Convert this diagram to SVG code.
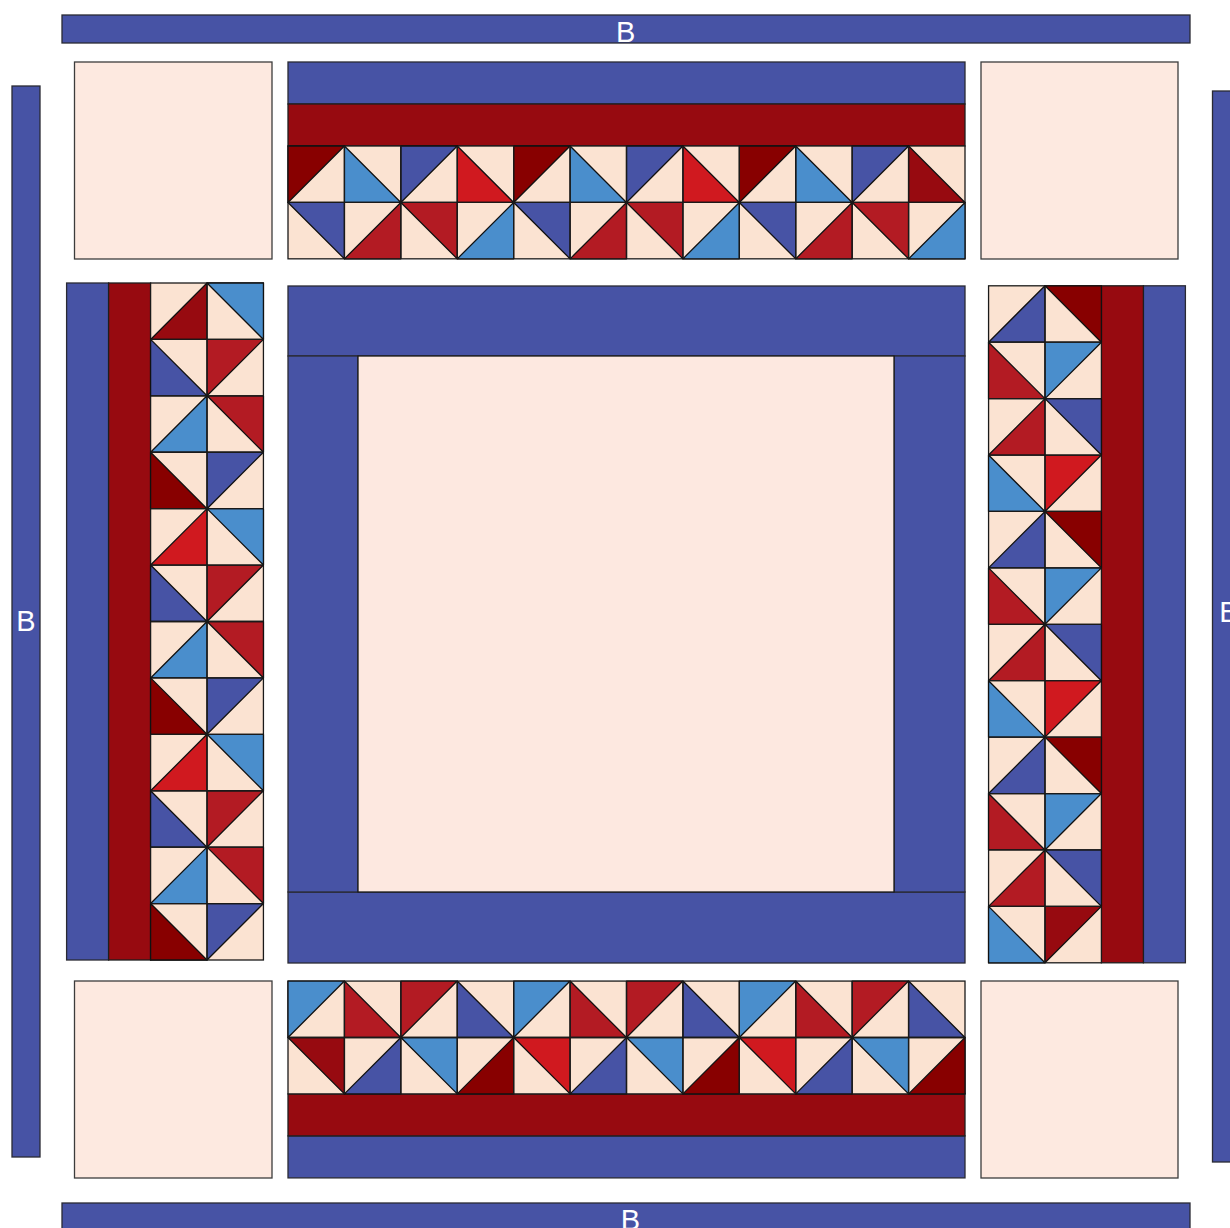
<svg xmlns="http://www.w3.org/2000/svg" xmlns:xlink="http://www.w3.org/1999/xlink" width="1230" height="1228" viewBox="0 0 1230 1228">
<style>
.blue{fill:#4753A5;stroke:#2a2a33;stroke-width:1.3}
.band{fill:#970A10;stroke:#1e1e1e;stroke-width:1.3}
.cream{fill:#FDE9E0;stroke:#3c3c3c;stroke-width:1.3}
.hst{fill:#FBE3D2;stroke:#1a1a1a;stroke-width:1.3}
.tri{stroke:#111;stroke-width:1.3;stroke-linejoin:round}
.grid{stroke:#1a1a1a;stroke-width:1.3;fill:none}
.lbl{font-family:"Liberation Sans","Open Sans",sans-serif;font-size:29px;fill:#ffffff;text-anchor:middle}
</style>
<defs>
<polygon id="tA" points="0,0 56.42,0 0,56.42"/>
<polygon id="tB" points="0,0 0,56.42 56.42,56.42"/>
<polygon id="tC" points="0,0 56.42,0 56.42,56.42"/>
<polygon id="tD" points="56.42,0 56.42,56.42 0,56.42"/>
<g id="strip">
<rect class="blue" x="0" y="0" width="677" height="42"/>
<rect class="band" x="0" y="42" width="677" height="42"/>
<rect class="hst" x="0" y="84" width="677" height="112.83"/>
<g class="tri">
<use xlink:href="#tA" x="0" y="84" fill="#880000"/>
<use xlink:href="#tB" x="56.42" y="84" fill="#4A8ECC"/>
<use xlink:href="#tA" x="112.83" y="84" fill="#4753A5"/>
<use xlink:href="#tB" x="169.25" y="84" fill="#D0191F"/>
<use xlink:href="#tA" x="225.67" y="84" fill="#880000"/>
<use xlink:href="#tB" x="282.08" y="84" fill="#4A8ECC"/>
<use xlink:href="#tA" x="338.5" y="84" fill="#4753A5"/>
<use xlink:href="#tB" x="394.92" y="84" fill="#D0191F"/>
<use xlink:href="#tA" x="451.33" y="84" fill="#880000"/>
<use xlink:href="#tB" x="507.75" y="84" fill="#4A8ECC"/>
<use xlink:href="#tA" x="564.17" y="84" fill="#4753A5"/>
<use xlink:href="#tB" x="620.58" y="84" fill="#970A10"/>
<use xlink:href="#tC" x="0" y="140.42" fill="#4753A5"/>
<use xlink:href="#tD" x="56.42" y="140.42" fill="#B31B23"/>
<use xlink:href="#tC" x="112.83" y="140.42" fill="#B31B23"/>
<use xlink:href="#tD" x="169.25" y="140.42" fill="#4A8ECC"/>
<use xlink:href="#tC" x="225.67" y="140.42" fill="#4753A5"/>
<use xlink:href="#tD" x="282.08" y="140.42" fill="#B31B23"/>
<use xlink:href="#tC" x="338.5" y="140.42" fill="#B31B23"/>
<use xlink:href="#tD" x="394.92" y="140.42" fill="#4A8ECC"/>
<use xlink:href="#tC" x="451.33" y="140.42" fill="#4753A5"/>
<use xlink:href="#tD" x="507.75" y="140.42" fill="#B31B23"/>
<use xlink:href="#tC" x="564.17" y="140.42" fill="#B31B23"/>
<use xlink:href="#tD" x="620.58" y="140.42" fill="#4A8ECC"/>
</g>
<path class="grid" d="M0,140.42H677M56.42,84V196.83M112.83,84V196.83M169.25,84V196.83M225.67,84V196.83M282.08,84V196.83M338.5,84V196.83M394.92,84V196.83M451.33,84V196.83M507.75,84V196.83M564.17,84V196.83M620.58,84V196.83"/>
</g>
</defs>

<g id="border-top"><rect class="blue" x="62" y="15" width="1128" height="28"/><text class="lbl" x="625.7" y="41.7">B</text></g>
<g id="border-left"><rect class="blue" x="12" y="86" width="28" height="1071"/><text class="lbl" x="25.8" y="630.7">B</text></g>
<g id="border-right"><rect class="blue" x="1212.5" y="91" width="28" height="1071"/><text class="lbl" x="1229" y="622.3">B</text></g>
<g id="border-bottom"><rect class="blue" x="62" y="1203" width="1128" height="28"/><text class="lbl" x="630.5" y="1230">B</text></g>

<g id="corner-tl"><rect class="cream" x="74.5" y="62" width="197.5" height="197"/></g>
<g id="corner-tr"><rect class="cream" x="981" y="62" width="197" height="197"/></g>
<g id="corner-bl"><rect class="cream" x="74.5" y="981" width="197.5" height="197"/></g>
<g id="corner-br"><rect class="cream" x="981" y="981" width="197" height="197"/></g>

<g id="strip-top"><use xlink:href="#strip" transform="translate(288,62)"/></g>
<g id="strip-left"><use xlink:href="#strip" transform="translate(165,621.5) rotate(-90) translate(-338.5,-98.4)"/></g>
<g id="strip-right"><use xlink:href="#strip" transform="translate(1087,624.3) rotate(90) translate(-338.5,-98.4)"/></g>
<g id="strip-bottom"><use xlink:href="#strip" transform="translate(626.5,1079.5) rotate(180) translate(-338.5,-98.4)"/></g>

<g id="center-block">
<rect class="blue" x="288" y="286" width="677" height="70"/>
<rect class="blue" x="288" y="892" width="677" height="71"/>
<rect class="blue" x="288" y="356" width="70" height="536"/>
<rect class="blue" x="894" y="356" width="71" height="536"/>
<rect x="358" y="356" width="536" height="536" fill="#FDE8E0" stroke="#1a1a1a" stroke-width="1.3"/>
</g>
<g id="connectors"/>
</svg>
